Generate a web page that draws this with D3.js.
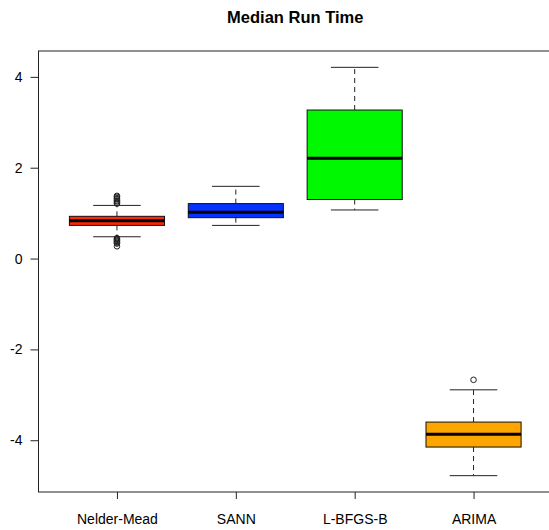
<!DOCTYPE html>
<html>
<head>
<meta charset="utf-8">
<script src="https://cdn.jsdelivr.net/npm/d3@7.9.0/dist/d3.min.js"></script>
<style>
  body { margin: 0; background: #fff; }
  svg { display: block; font-family: "Liberation Sans", Arial, Helvetica, sans-serif; }
</style>
</head>
<body>
<div id="chart"></div>
<script>
// Box plot summaries
const methods = ['Nelder-Mead', 'SANN', 'L-BFGS-B', 'ARIMA'];
const fills = ['#ff2600', '#0433ff', '#00f900', '#ffa500'];
const lowerWhisker = [0.48, 0.73, 1.07, -4.78];
const q1 = [0.73, 0.90, 1.30, -4.15];
const medians = [0.83, 1.02, 2.21, -3.87];
const q3 = [0.93, 1.21, 3.27, -3.60];
const upperWhisker = [1.17, 1.59, 4.21, -2.89];
const outliers = [
  [1.21, 1.23, 1.26, 1.28, 1.31, 1.33, 1.36, 1.38, 0.45, 0.43, 0.41, 0.39, 0.37, 0.35, 0.33, 0.27],
  [],
  [],
  [-2.67]
];
const yTicks = [-4, -2, 0, 2, 4];

const width = 549;
const height = 530;
const plot = { left: 38.5, right: 552, top: 51, bottom: 492 };

const boxes = methods.map((m, i) => ({
  name: m,
  pos: i + 1,
  fill: fills[i],
  lo: lowerWhisker[i],
  q1: q1[i],
  med: medians[i],
  q3: q3[i],
  hi: upperWhisker[i],
  out: outliers[i]
}));

// R style ranges: boxes at 1..n, padded by 4%
const n = methods.length;
const xPad = (n + 0.5 - 0.5) * 0.04;
const xScale = d3.scaleLinear()
  .domain([0.5 - xPad, n + 0.5 + xPad])
  .range([plot.left, plot.right]);

const allVals = boxes.flatMap(b => [b.lo, b.hi, ...b.out]);
const [yMin, yMax] = d3.extent(allVals);
const yPad = (yMax - yMin) * 0.04;
const yScale = d3.scaleLinear()
  .domain([yMin - yPad, yMax + yPad])
  .range([plot.bottom, plot.top]);

const svg = d3.select('#chart')
  .append('svg')
  .attr('width', width)
  .attr('height', height);

// Title
svg.append('text')
  .attr('x', (plot.left + plot.right) / 2)
  .attr('y', 23)
  .attr('text-anchor', 'middle')
  .style('font-size', '16.5px')
  .style('font-weight', 'bold')
  .text('Median Run Time');

const boxW = xScale(0.8) - xScale(0);
const capW = xScale(0.4) - xScale(0);

const g = svg.append('g')
  .selectAll('g')
  .data(boxes)
  .join('g');

// Dashed whiskers
g.append('line')
  .attr('x1', d => xScale(d.pos)).attr('x2', d => xScale(d.pos))
  .attr('y1', d => yScale(d.q3)).attr('y2', d => yScale(d.hi))
  .attr('stroke', '#222').attr('stroke-dasharray', '5,4');
g.append('line')
  .attr('x1', d => xScale(d.pos)).attr('x2', d => xScale(d.pos))
  .attr('y1', d => yScale(d.q1)).attr('y2', d => yScale(d.lo))
  .attr('stroke', '#222').attr('stroke-dasharray', '5,4');

// Whisker caps
g.selectAll('line.cap')
  .data(d => [d.lo, d.hi].map(v => ({ pos: d.pos, v })))
  .join('line')
  .attr('class', 'cap')
  .attr('x1', d => xScale(d.pos) - capW / 2)
  .attr('x2', d => xScale(d.pos) + capW / 2)
  .attr('y1', d => yScale(d.v)).attr('y2', d => yScale(d.v))
  .attr('stroke', '#222');

// Boxes
g.append('rect')
  .attr('x', d => xScale(d.pos) - boxW / 2)
  .attr('width', boxW)
  .attr('y', d => yScale(d.q3))
  .attr('height', d => yScale(d.q1) - yScale(d.q3))
  .attr('fill', d => d.fill)
  .attr('stroke', '#111');

// Medians
g.append('line')
  .attr('x1', d => xScale(d.pos) - boxW / 2)
  .attr('x2', d => xScale(d.pos) + boxW / 2)
  .attr('y1', d => yScale(d.med)).attr('y2', d => yScale(d.med))
  .attr('stroke', '#000').attr('stroke-width', 3);

// Outliers
g.selectAll('circle')
  .data(d => d.out.map(v => ({ pos: d.pos, v })))
  .join('circle')
  .attr('cx', d => xScale(d.pos))
  .attr('cy', d => yScale(d.v))
  .attr('r', 2.8)
  .attr('fill', 'none')
  .attr('stroke', '#222');

// Frame
svg.append('rect')
  .attr('x', plot.left).attr('y', plot.top)
  .attr('width', plot.right - plot.left)
  .attr('height', plot.bottom - plot.top)
  .attr('fill', 'none')
  .attr('stroke', '#222');

// Y axis
const yAxis = svg.append('g')
  .attr('transform', `translate(${plot.left},0)`)
  .call(d3.axisLeft(yScale).tickValues(yTicks).tickSize(8).tickPadding(8).tickFormat(d3.format('d')));
yAxis.select('.domain').remove();
yAxis.selectAll('line').attr('stroke', '#222');
yAxis.selectAll('text').style('font-size', '14px').attr('fill', '#000')
  .text(d => d < 0 ? '-' + Math.abs(d) : d);

// X axis
const xAxis = svg.append('g')
  .attr('transform', `translate(0,${plot.bottom})`)
  .call(d3.axisBottom(xScale).tickValues(boxes.map(b => b.pos)).tickSize(7).tickPadding(15)
    .tickFormat((d, i) => methods[i]));
xAxis.select('.domain').remove();
xAxis.selectAll('line').attr('stroke', '#222');
xAxis.selectAll('text').style('font-size', '14px').attr('fill', '#000');
</script>
</body>
</html>
